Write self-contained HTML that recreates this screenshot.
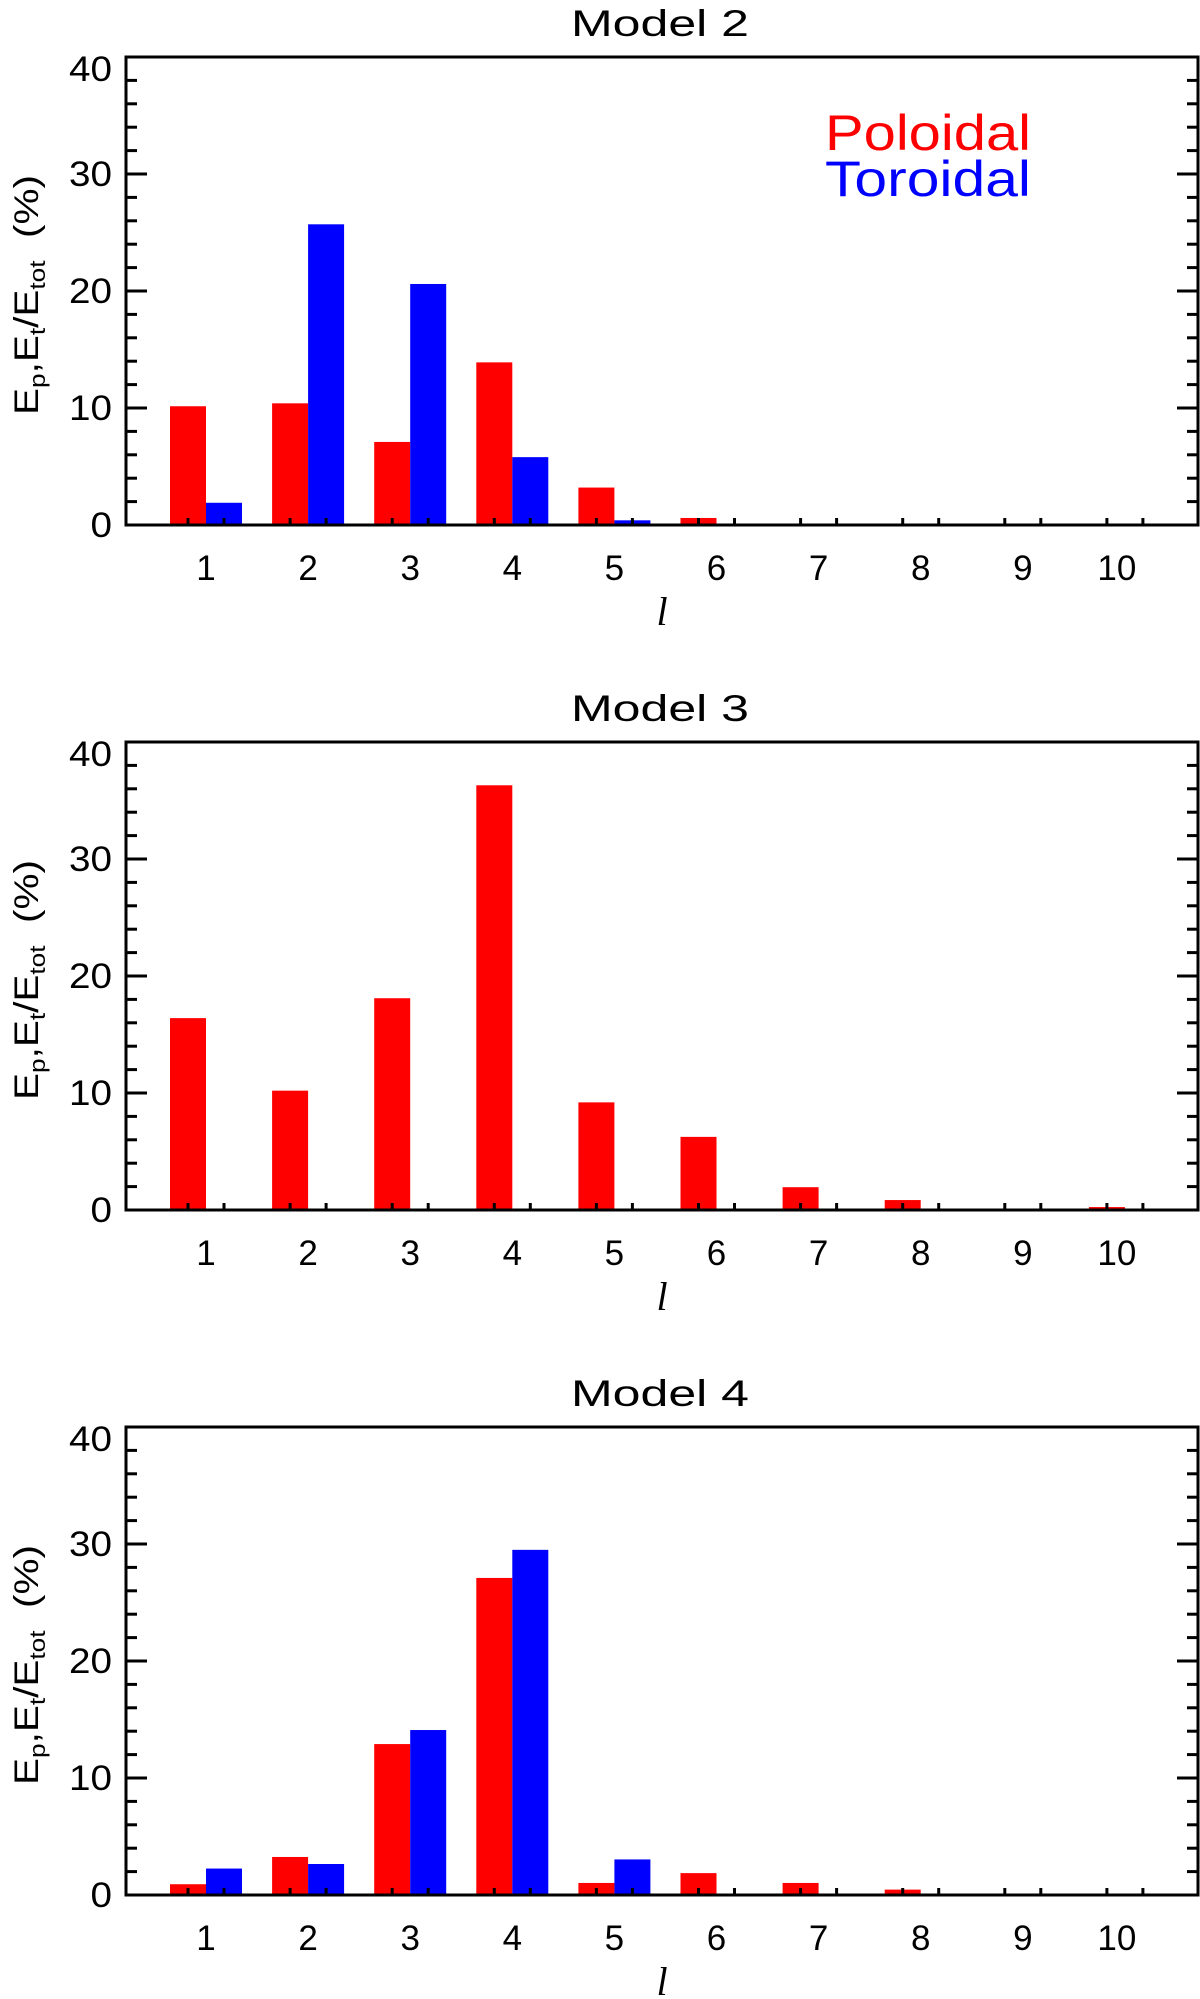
<!DOCTYPE html>
<html><head><meta charset="utf-8"><style>
html,body{margin:0;padding:0;background:#fff;}
svg{display:block;font-family:"Liberation Sans",sans-serif;}
</style></head><body>
<svg id="chart" width="1200" height="1999" viewBox="0 0 1200 1999" xmlns="http://www.w3.org/2000/svg"></svg>
<script>
const categories = [1,2,3,4,5,6,7,8,9,10];
const yTicks = [0,10,20,30,40];
const panelTitles = ["Model 2","Model 3","Model 4"];
const model2Poloidal = [10.15,10.4,7.1,13.9,3.2,0.6,0,0,0,0];
const model2Toroidal = [1.9,25.7,20.6,5.8,0.4,0,0,0,0,0];
const model3Poloidal = [16.4,10.2,18.1,36.3,9.2,6.25,1.95,0.85,0.1,0.25];
const model3Toroidal = [0,0,0,0,0,0,0,0,0,0];
const model4Poloidal = [0.92,3.25,12.9,27.1,1.03,1.87,1.03,0.46,0,0];
const model4Toroidal = [2.26,2.65,14.1,29.5,3.04,0,0,0,0,0];

const poloidalSets = [model2Poloidal, model3Poloidal, model4Poloidal];
const toroidalSets = [model2Toroidal, model3Toroidal, model4Toroidal];
const panelTops = [57, 742, 1427];
const NS = "http://www.w3.org/2000/svg";
const svg = document.getElementById('chart');
const L = 126, R = 1198, H = 468, YMAX = 40;
const c1 = 206, dc = 102.1, barW = 36;

function mk(tag, attrs, parent) {
  const e = document.createElementNS(NS, tag);
  for (const k in attrs) e.setAttribute(k, attrs[k]);
  parent.appendChild(e);
  return e;
}

panelTops.forEach((top, p) => {
  const bottom = top + H;
  const xScale = c => c1 + (c - 1) * dc;
  const yScale = v => bottom - v / YMAX * H;
  const g = mk('g', {}, svg);
  
  

  const t = mk('text', {x: 660, y: top - 21, 'font-size': 37, 'text-anchor': 'middle', fill: '#000', textLength: 178, lengthAdjust: 'spacingAndGlyphs'}, g);
  t.textContent = panelTitles[p];
  
  

  categories.forEach((c, i) => {
    const pv = poloidalSets[p][i], tv = toroidalSets[p][i];
    if (pv > 0) {
      const b = mk('rect', {x: xScale(c) - barW, y: yScale(pv), width: barW, height: bottom - yScale(pv), fill: '#ff0000'}, g);
      
      
    }
    if (tv > 0) {
      const b = mk('rect', {x: xScale(c), y: yScale(tv), width: barW, height: bottom - yScale(tv), fill: '#0000ff'}, g);
      
      
    }
  });

  for (let v = 0; v <= YMAX; v += 2) {
    const y = yScale(v);
    const len = (v % 10 === 0) ? 21 : 11;
    mk('line', {x1: L, x2: L + len, y1: y, y2: y, stroke: '#000', 'stroke-width': 3}, g);
    mk('line', {x1: R, x2: R - len, y1: y, y2: y, stroke: '#000', 'stroke-width': 3}, g);
  }
  yTicks.forEach(v => {
    const s = String(v);
    const tl = mk('text', {x: 112, y: Math.max(yScale(v) + 12, top + 24), 'font-size': 35, 'text-anchor': 'end', fill: '#000', textLength: s.length * 21.5, lengthAdjust: 'spacingAndGlyphs'}, g);
    tl.textContent = s;
    
    
  });

  categories.forEach(c => {
    const x = xScale(c);
    [-18, 18].forEach(o => mk('line', {x1: x + o, x2: x + o, y1: bottom, y2: bottom - 7, stroke: '#000', 'stroke-width': 3}, g));
    const s = String(c);
    const xl = mk('text', {x: s.length > 1 ? x - 8 : x, y: bottom + 55, 'font-size': 35, 'text-anchor': 'middle', fill: '#000'}, g);
    xl.textContent = s;
    
    
  });

  const f = mk('rect', {x: L, y: top, width: R - L, height: H, fill: 'none', stroke: '#000', 'stroke-width': 3}, g);
  
  

  const xt = mk('text', {x: 662, y: bottom + 100, 'font-size': 40, 'font-style': 'italic', 'font-family': 'Liberation Serif, serif', 'text-anchor': 'middle', fill: '#000'}, g);
  xt.textContent = 'l';
  
  

  const cy = top + H / 2 + 4;
  const yt = mk('text', {x: 0, y: 0, 'font-size': 34, 'text-anchor': 'middle', fill: '#000', textLength: 240, lengthAdjust: 'spacingAndGlyphs', transform: `translate(38 ${cy}) rotate(-90)`}, g);
  yt.innerHTML = 'E<tspan font-size="22" dy="7">p</tspan><tspan dy="-7">,E</tspan><tspan font-size="22" dy="7">t</tspan><tspan dy="-7">/E</tspan><tspan font-size="22" dy="7">tot</tspan><tspan dy="-7">\u00a0\u00a0(%)</tspan>';
  
  

  if (p === 0) {
    const l1 = mk('text', {x: 825, y: 150, 'font-size': 50, fill: '#ff0000', textLength: 206, lengthAdjust: 'spacingAndGlyphs'}, g);
    l1.textContent = 'Poloidal';
    
    
    const l2 = mk('text', {x: 825, y: 196, 'font-size': 50, fill: '#0000ff', textLength: 206, lengthAdjust: 'spacingAndGlyphs'}, g);
    l2.textContent = 'Toroidal';
    
    
  }
});
</script>
</body></html>
